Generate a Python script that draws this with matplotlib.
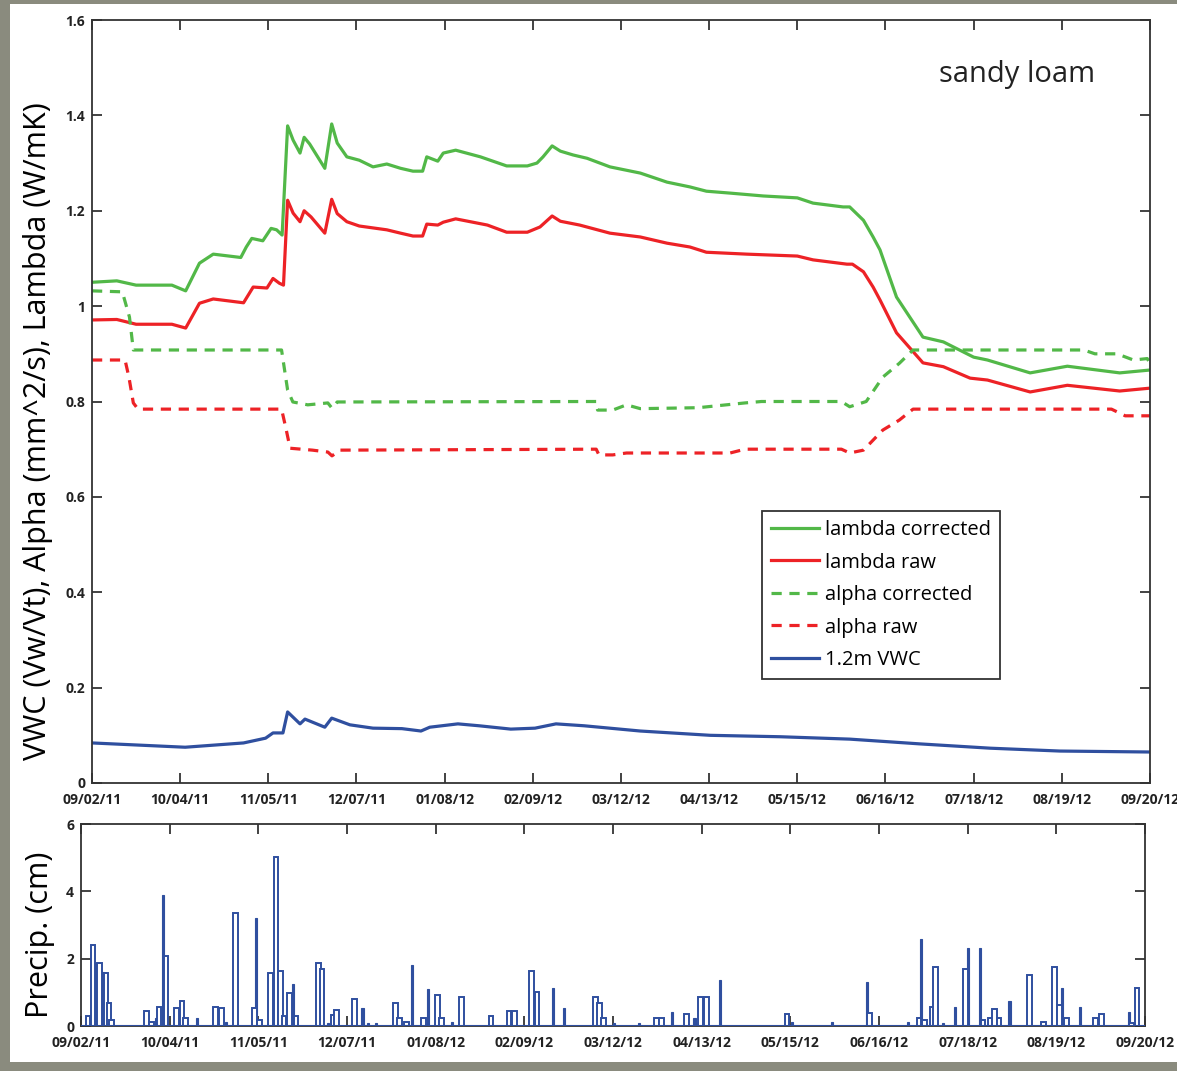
import numpy as np
import pandas as pd
import matplotlib
matplotlib.use('Agg')
import matplotlib.pyplot as plt
import matplotlib.dates as mdates
from matplotlib.patches import Rectangle

plt.rcParams['font.family'] = ['Open Sans', 'DejaVu Sans']

start = pd.Timestamp('2011-09-02')

########################## lambda / alpha / VWC (day offset from 09/02/11) ##########
lam_cor_day = [0, 9, 16, 29, 34, 39, 44, 54, 56, 58, 62, 65, 67, 69, 71, 73, 75.5, 77, 79,
               84.5, 87, 89, 92.5, 97, 102, 107, 112, 116.5, 120, 121.5, 125.5, 127.5, 132,
               141, 150.5, 158, 161.5, 163.7, 167, 170, 174.6, 179.7, 188, 199, 208.7, 217,
               223, 231.6, 243.6, 256, 261.7, 272.6, 275, 280, 283.5, 286, 292, 301.6, 309,
               320, 325, 340.5, 354, 373, 384]
lam_cor_val = [1.05, 1.053, 1.044, 1.044, 1.032, 1.09, 1.109, 1.102, 1.124, 1.142, 1.137,
               1.163, 1.16, 1.149, 1.378, 1.348, 1.321, 1.354, 1.34, 1.289, 1.382, 1.342,
               1.313, 1.306, 1.292, 1.298, 1.289, 1.283, 1.283, 1.313, 1.304, 1.321, 1.327,
               1.313, 1.294, 1.294, 1.30, 1.313, 1.336, 1.325, 1.317, 1.31, 1.292, 1.279,
               1.26, 1.25, 1.241, 1.237, 1.231, 1.227, 1.216, 1.208, 1.208, 1.18, 1.145,
               1.118, 1.019, 0.935, 0.925, 0.893, 0.887, 0.86, 0.874, 0.86, 0.866]

lam_raw_day = [0, 9, 16, 29, 34, 39, 44, 55, 58.5, 63.5, 65.7, 68, 69.5, 71, 73, 75.5, 77,
               79.5, 84.5, 87, 89, 92.5, 97, 107, 112, 116.5, 120, 121.5, 125.5, 127.5, 132,
               143.5, 150.5, 158, 162.6, 167, 170, 177, 188, 199, 208.7, 217, 223, 237.7,
               256, 261.7, 274, 276, 280, 283.5, 286, 292, 301.6, 309, 318.7, 325, 340.5,
               354, 373, 384]
lam_raw_val = [0.971, 0.972, 0.962, 0.962, 0.954, 1.006, 1.015, 1.007, 1.04, 1.038, 1.058,
               1.048, 1.044, 1.222, 1.195, 1.177, 1.20, 1.187, 1.153, 1.224, 1.194, 1.177,
               1.168, 1.16, 1.153, 1.147, 1.147, 1.172, 1.17, 1.176, 1.183, 1.17, 1.155,
               1.155, 1.166, 1.189, 1.178, 1.17, 1.153, 1.145, 1.132, 1.124, 1.113, 1.109,
               1.105, 1.097, 1.088, 1.088, 1.072, 1.04, 1.013, 0.944, 0.881, 0.873, 0.849,
               0.845, 0.82, 0.834, 0.822, 0.828]

alp_cor_day = [0, 11, 13.6, 15, 68.8, 71, 72.9, 78.3, 85.6, 87.1, 89, 183, 183.5, 189, 194,
               199, 220, 237, 243, 272, 275, 281, 287, 293, 298, 360, 364, 372, 378, 383, 384]
alp_cor_val = [1.032, 1.03, 0.977, 0.908, 0.908, 0.824, 0.799, 0.793, 0.797, 0.786, 0.799,
               0.80, 0.782, 0.782, 0.793, 0.785, 0.787, 0.797, 0.80, 0.80, 0.789, 0.80,
               0.851, 0.88, 0.908, 0.908, 0.90, 0.90, 0.887, 0.89, 0.88]

alp_raw_day = [0, 12, 13.4, 15, 16.7, 68.8, 70.3, 71.9, 80, 85.6, 87.1, 90, 183, 184, 189,
               194, 231.6, 237, 272, 275, 280, 287, 293, 298, 370, 375, 384]
alp_raw_val = [0.887, 0.887, 0.851, 0.797, 0.784, 0.784, 0.746, 0.702, 0.698, 0.694, 0.686,
               0.698, 0.70, 0.688, 0.688, 0.692, 0.692, 0.70, 0.70, 0.692, 0.698, 0.74,
               0.761, 0.784, 0.784, 0.77, 0.77]

vwc_day = [0, 33.8, 55, 63, 65.7, 69.3, 71, 75.5, 77.3, 84.5, 87, 93.6, 102, 112.5, 119.4,
           122.6, 132.8, 140.5, 152, 160.8, 168.4, 178.6, 199, 224.4, 249.8, 275, 300.5,
           326, 351.3, 384]
vwc_val = [0.084, 0.075, 0.084, 0.094, 0.105, 0.105, 0.149, 0.124, 0.134, 0.117, 0.136,
           0.122, 0.115, 0.114, 0.109, 0.117, 0.124, 0.12, 0.113, 0.115, 0.124, 0.12,
           0.109, 0.10, 0.097, 0.092, 0.082, 0.073, 0.067, 0.065]

########################## precipitation (cm) ######################################
# outlined bars
p_open_day = [2.5, 4.3, 6.7, 9.0, 10.1, 11.0, 23.6, 25.5, 28.2, 30.7, 34.4, 36.5, 37.8,
              48.6, 50.6, 55.8, 62.7, 64.5, 68.5, 70.4, 71.9, 73.3, 75.2, 77.6, 85.7, 87.0,
              91.0, 92.1, 98.6, 113.6, 115.0, 117.4, 123.6, 128.7, 130.2, 137.2, 148.0,
              154.5, 156.5, 162.7, 164.6, 185.6, 187.0, 188.5, 207.6, 209.6, 218.5, 223.6,
              225.8, 254.8, 284.5, 302.4, 304.5, 307.4, 308.4, 319.3, 325.5, 328.2, 329.6,
              331.3, 342.4, 347.4, 351.3, 353.2, 355.6, 366.2, 368.3, 379.0, 381.1]
p_open_val = [0.30, 2.41, 1.86, 1.58, 0.67, 0.18, 0.45, 0.13, 0.57, 2.08, 0.52, 0.74, 0.23,
              0.57, 0.52, 3.37, 0.52, 0.18, 1.58, 5.01, 1.64, 0.30, 0.97, 0.30, 1.86, 1.70,
              0.33, 0.48, 0.79, 0.69, 0.23, 0.13, 0.23, 0.92, 0.23, 0.87, 0.30,
              0.45, 0.45, 1.64, 1.02, 0.87, 0.69, 0.23, 0.23, 0.23, 0.36, 0.87,
              0.87, 0.36, 0.40, 0.23, 0.18, 0.57, 1.74, 1.68, 0.18, 0.23, 0.50,
              0.23, 1.51, 0.13, 1.74, 0.62, 0.23, 0.23, 0.36, 0.10, 1.14]
# solid bars
p_fill_day = [5.5, 7.9, 27.0, 29.5, 41.8, 52.3, 63.3, 69.7, 76.5, 89.2, 101.6, 103.5, 106.4,
              119.3, 125.3, 134.0, 170.4, 174.4, 192.5, 201.5, 213.3, 221.4, 230.5, 256.5,
              271.1, 283.6, 298.6, 303.3, 311.0, 315.5, 320.1, 324.3, 335.1, 354.2, 360.4,
              378.2]
p_fill_val = [1.86, 1.60, 0.25, 3.89, 0.25, 0.13, 3.20, 1.58, 1.25, 0.10, 0.52, 0.08, 0.08,
              1.81, 1.09, 0.13, 1.14, 0.52, 0.08, 0.08, 0.41, 0.23, 1.37, 0.13,
              0.13, 1.32, 0.13, 2.58, 0.08, 0.57, 2.31, 2.31, 0.74, 1.14, 0.57,
              0.41]

tick_dates = pd.date_range(start, periods=13, freq='32D')


def to_dates(days):
    return start + pd.to_timedelta(np.array(days), unit='D')


green = '#52b848'
red = '#ed2226'
blue = '#2f4f9f'
tick_font = {'fontsize': 10, 'fontweight': 'bold'}

fig = plt.figure(figsize=(11.77, 10.71), dpi=100, facecolor='#8a8b7e')
fig.patches.append(Rectangle((10 / 1177, 9 / 1071), 1 - 10 / 1177, 1 - 13 / 1071,
                             transform=fig.transFigure, facecolor='white',
                             edgecolor='none', zorder=-10))

ax = fig.add_axes([92 / 1177, 1 - 783 / 1071, 1058 / 1177, 763 / 1071])
ax.set_facecolor('white')
lw = 2.3
ax.plot(to_dates(lam_cor_day), lam_cor_val, color=green, lw=lw, label='lambda corrected')
ax.plot(to_dates(lam_raw_day), lam_raw_val, color=red, lw=lw, label='lambda raw')
ax.plot(to_dates(alp_cor_day), alp_cor_val, color=green, lw=lw, dashes=(3.2, 2.4),
        label='alpha corrected')
ax.plot(to_dates(alp_raw_day), alp_raw_val, color=red, lw=lw, dashes=(3.2, 2.4),
        label='alpha raw')
ax.plot(to_dates(vwc_day), vwc_val, color=blue, lw=lw, label='1.2m VWC')

ax.set_xlim(tick_dates[0], tick_dates[-1])
ax.set_ylim(0, 1.6)
ax.set_yticks(np.arange(0, 1.61, 0.2))
ax.set_yticklabels(['0', '0.2', '0.4', '0.6', '0.8', '1', '1.2', '1.4', '1.6'], **tick_font)
ax.set_xticks(tick_dates)
ax.set_xticklabels([d.strftime('%m/%d/%y') for d in tick_dates], **tick_font)
ax.set_ylabel('VWC (Vw/Vt), Alpha (mm^2/s), Lambda (W/mK)', fontsize=22)
ax.yaxis.set_label_coords(-0.037, 0.461)
ax.text(0.874, 0.929, 'sandy loam', transform=ax.transAxes, fontsize=21, ha='center',
        va='center', color='#222222')
leg = ax.legend(loc='upper left', bbox_to_anchor=(0.633, 0.3565), borderaxespad=0,
                fontsize=14.5, handlelength=2.4, labelspacing=0.62, handletextpad=0.3,
                borderpad=0.45, fancybox=False, framealpha=1)
leg.get_frame().set_edgecolor('#333333')
leg.get_frame().set_linewidth(1.3)

ax2 = fig.add_axes([81 / 1177, 1 - 1026 / 1071, 1064 / 1177, 202 / 1071])
ax2.set_facecolor('white')
ax2.bar(to_dates(p_fill_day), p_fill_val, width=0.75, color=blue, edgecolor=blue,
        linewidth=0.8, zorder=2)
ax2.bar(to_dates(p_open_day), p_open_val, width=1.7, facecolor='white', edgecolor=blue,
        linewidth=1.4, zorder=3)
ax2.axhline(0, color=blue, lw=1.5, zorder=4)
ax2.set_xlim(tick_dates[0], tick_dates[-1])
ax2.set_ylim(0, 6)
ax2.set_yticks([0, 2, 4, 6])
ax2.set_yticklabels(['0', '2', '4', '6'], **tick_font)
ax2.set_xticks(tick_dates)
ax2.set_xticklabels([d.strftime('%m/%d/%y') for d in tick_dates], **tick_font)
ax2.set_ylabel('Precip. (cm)', fontsize=22)
ax2.yaxis.set_label_coords(-0.024, 0.45)

for a in (ax, ax2):
    a.tick_params(direction='in', length=7, width=1.2, top=True, right=True,
                  colors='#222222')
    a.tick_params(axis='x', pad=7)
    a.tick_params(axis='y', pad=5)
    for s in a.spines.values():
        s.set_linewidth(1.3)
        s.set_color('#333333')

fig.savefig('out.png', dpi=100, facecolor=fig.get_facecolor())
